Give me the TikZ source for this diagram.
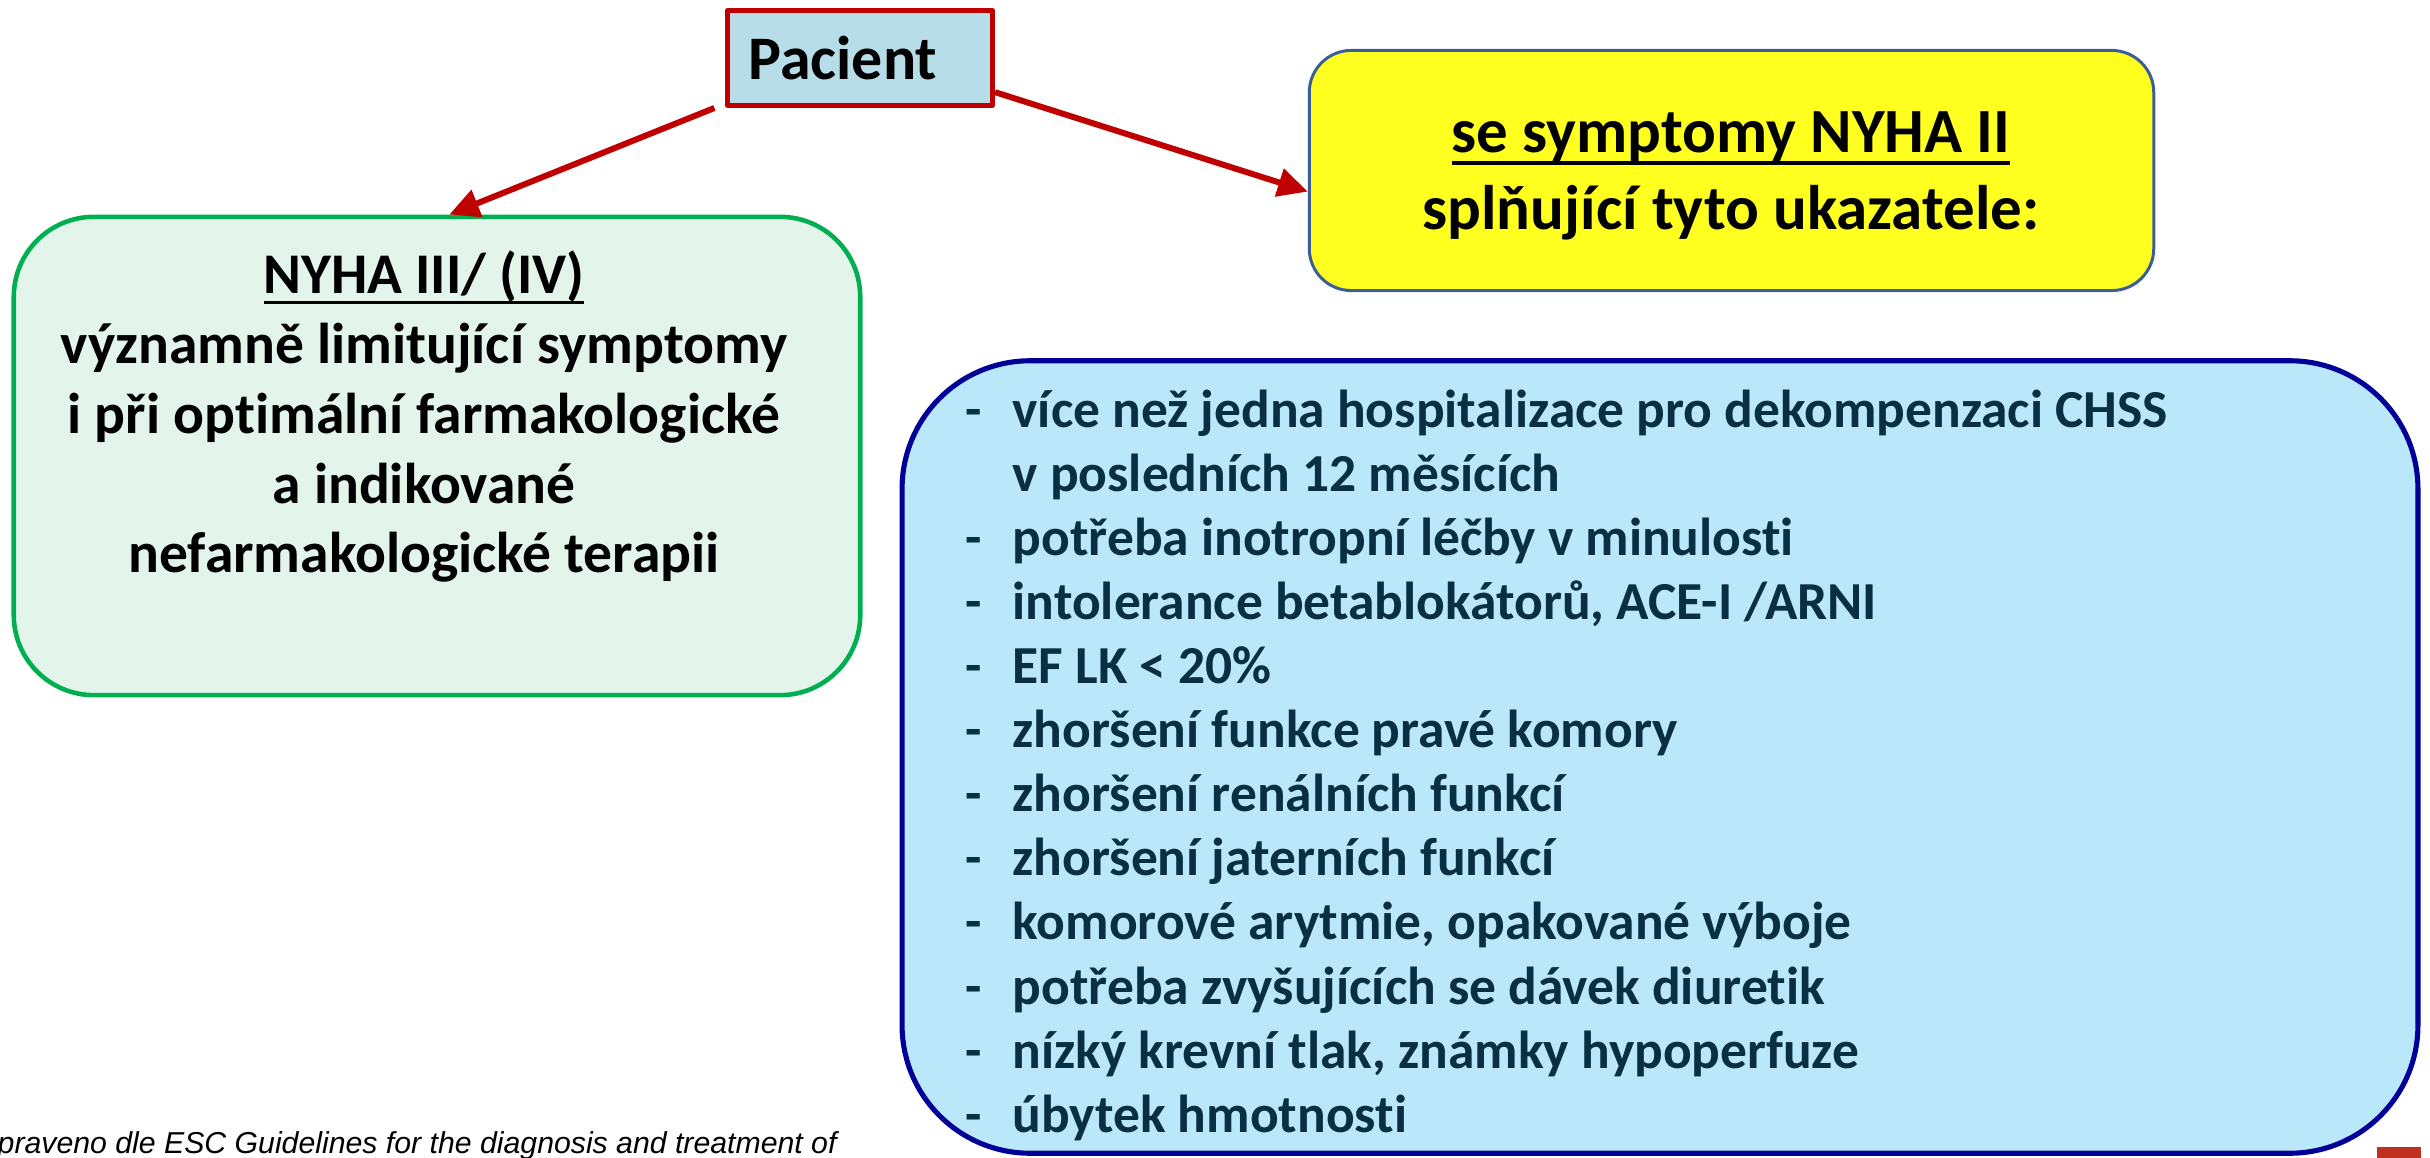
\documentclass[tikz,border=0pt]{standalone}
\usepackage{fontspec}
\setmainfont{Carlito}[Ligatures=NoCommon]
\newfontfamily\notefont{Liberation Sans}
\usetikzlibrary{arrows.meta}

\definecolor{pacfill}{RGB}{183,221,232}
\definecolor{darkred}{RGB}{192,0,0}
\definecolor{mintfill}{RGB}{227,244,234}
\definecolor{okgreen}{RGB}{0,176,80}
\definecolor{hiyellow}{RGB}{255,255,32}
\definecolor{steelline}{RGB}{60,94,150}
\definecolor{skyfill}{RGB}{186,231,249}
\definecolor{navyline}{RGB}{0,0,153}
\definecolor{listink}{RGB}{8,48,66}
\definecolor{pagered}{RGB}{192,48,30}

\newsavebox{\ulinbox}
\newcommand{\ulin}[1]{\sbox{\ulinbox}{#1}\rlap{\rule[-0.19em]{\wd\ulinbox}{0.06em}}\usebox{\ulinbox}}
\newcommand{\itemdash}{\makebox[0.47cm][l]{-}}
\newcommand{\itemgap}{\hspace*{0.47cm}}

\begin{document}
\begin{tikzpicture}[
        x=0.01cm, y=-0.01cm,
        pacbox/.style={draw=darkred, line width=1.4pt, fill=pacfill, line join=round,
            minimum width=2.65cm, minimum height=0.95cm, text width=2.23cm, inner xsep=0.21cm,
            align=left, font=\fontsize{17.6}{21}\selectfont\bfseries},
        classbox/.style={draw=okgreen, line width=1.3pt, fill=mintfill, rounded corners=0.8cm,
            minimum width=8.46cm, minimum height=4.78cm},
        milbox/.style={draw=steelline, line width=0.85pt, fill=hiyellow, rounded corners=0.42cm,
            minimum width=8.44cm, minimum height=2.40cm},
        critbox/.style={draw=navyline, line width=1.45pt, fill=skyfill, rounded corners=1.28cm,
            minimum width=15.15cm, minimum height=7.92cm},
        head_text/.style={align=center, inner sep=0pt, anchor=base},
        crit_text/.style={align=left, inner sep=0pt, anchor=base west, text=listink,
            font=\fontsize{15.2}{18.2}\selectfont\bfseries},
        note_text/.style={inner sep=0pt, anchor=base west, font=\notefont\itshape\fontsize{8.6}{10}\selectfont},
        red_arrow/.style={-{Triangle[length=8.5pt, width=8pt]}, draw=darkred, fill=darkred, line width=1.7pt}
    ]
    \useasboundingbox (0,0) rectangle (2430,1158);

    % --- Patient ---
    \node[pacbox] (pac) at (860,58) {Pacient};

    % --- NYHA III/IV ---
    \node[classbox] (nyha3) at (437,456) {};
    \node[head_text, font=\fontsize{16.36}{19.9}\selectfont\bfseries] (nyha3_txt) at (424,573)
        {\ulin{NYHA III/ (IV)}\\významně limitující symptomy\\i při optimální farmakologické\\a indikované\\nefarmakologické terapii};

    % --- NYHA II ---
    \node[milbox] (nyha2) at (1731.5,170.5) {};
    \node[head_text, font=\fontsize{17.9}{21.9}\selectfont\bfseries] (nyha2_txt) at (1731,230)
        {\ulin{se symptomy NYHA II}\\splňující tyto ukazatele:};

    % --- criteria list ---
    \node[critbox] (crit) at (1660,757) {};
    \node[crit_text] (crit_txt) at (965,1132) {%
        \itemdash více než jedna hospitalizace pro dekompenzaci CHSS\\
        \itemgap v posledních 12 měsících\\
        \itemdash potřeba inotropní léčby v minulosti\\
        \itemdash intolerance betablokátorů, ACE-I /ARNI\\
        \itemdash EF LK < 20\%\\
        \itemdash zhoršení funkce pravé komory\\
        \itemdash zhoršení renálních funkcí\\
        \itemdash zhoršení jaterních funkcí\\
        \itemdash komorové arytmie, opakované výboje\\
        \itemdash potřeba zvyšujících se dávek diuretik\\
        \itemdash nízký krevní tlak, známky hypoperfuze\\
        \itemdash úbytek hmotnosti};

    % --- source note and page mark ---
    \node[note_text] (note) at (-3,1153) {praveno dle ESC Guidelines for the diagnosis and treatment of};
    \fill[pagered] (2377,1147) rectangle (2421,1158);

    % --- arrows ---
    \draw[red_arrow] ([xshift=-3pt]pac.south west) -- ([xshift=3.5pt]nyha3.north);
    \draw[red_arrow] ([yshift=4.5pt]pac.south east) -- ([yshift=-6pt]nyha2.west);

\end{tikzpicture}
\end{document}
